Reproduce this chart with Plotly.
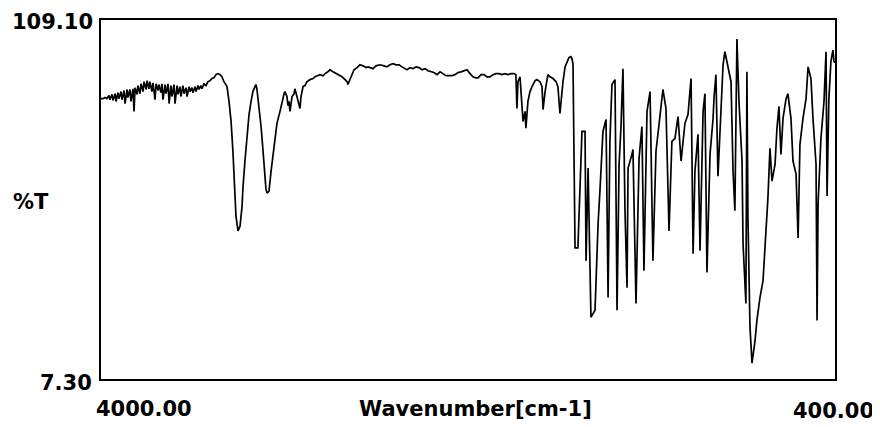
import plotly.graph_objects as go

wavenumber = [
    4000, 3990, 3980, 3971, 3961, 3956, 3946, 3941, 3931, 3926, 3917, 3912, 3902, 3897, 3887, 3882,
    3872, 3868, 3858, 3853, 3843, 3838, 3833, 3823, 3819, 3809, 3804, 3794, 3789, 3779, 3774, 3765,
    3760, 3750, 3745, 3735, 3730, 3720, 3716, 3706, 3701, 3696, 3686, 3681, 3671, 3666, 3657, 3652,
    3642, 3637, 3627, 3622, 3613, 3608, 3598, 3593, 3583, 3578, 3568, 3563, 3554, 3549, 3539, 3534,
    3524, 3519, 3510, 3505, 3495, 3485, 3475, 3465, 3456, 3446, 3436, 3426, 3416, 3407, 3397, 3387,
    3382, 3372, 3362, 3353, 3343, 3338, 3328, 3318, 3308, 3304, 3294, 3284, 3274, 3264, 3255, 3245,
    3240, 3235, 3225, 3215, 3210, 3201, 3191, 3186, 3176, 3166, 3156, 3147, 3137, 3122, 3112, 3102,
    3098, 3088, 3083, 3078, 3073, 3063, 3053, 3049, 3039, 3034, 3024, 3019, 3009, 3000, 2990, 2975,
    2960, 2950, 2936, 2926, 2911, 2901, 2887, 2877, 2862, 2847, 2833, 2818, 2803, 2793, 2789, 2779,
    2769, 2759, 2744, 2730, 2715, 2700, 2690, 2676, 2666, 2651, 2632, 2612, 2597, 2583, 2568, 2553,
    2538, 2524, 2509, 2499, 2484, 2470, 2455, 2440, 2426, 2411, 2396, 2381, 2367, 2352, 2337, 2323,
    2308, 2293, 2279, 2264, 2249, 2234, 2220, 2205, 2190, 2176, 2161, 2151, 2136, 2122, 2107, 2092,
    2077, 2063, 2048, 2033, 2019, 2004, 1989, 1974, 1965, 1960, 1955, 1945, 1940, 1930, 1920, 1916,
    1906, 1896, 1886, 1871, 1862, 1847, 1837, 1832, 1822, 1813, 1808, 1798, 1783, 1768, 1759, 1749,
    1739, 1734, 1724, 1714, 1705, 1695, 1690, 1685, 1680, 1675, 1661, 1651, 1641, 1626, 1621, 1611,
    1597, 1577, 1572, 1562, 1553, 1538, 1523, 1513, 1504, 1494, 1479, 1469, 1459, 1450, 1440, 1430,
    1420, 1415, 1396, 1391, 1376, 1361, 1347, 1337, 1322, 1307, 1293, 1278, 1263, 1244, 1229, 1214,
    1200, 1185, 1170, 1155, 1136, 1121, 1106, 1096, 1087, 1072, 1062, 1047, 1038, 1028, 1013, 998,
    993, 984, 974, 959, 949, 940, 925, 910, 900, 891, 881, 871, 856, 851, 837, 832,
    827, 817, 807, 792, 783, 768, 753, 743, 729, 719, 709, 694, 685, 675, 665, 655,
    640, 631, 616, 606, 591, 581, 572, 557, 542, 532, 518, 508, 493, 488, 483, 469,
    454, 444, 439, 430, 420, 410, 405, 400,
]

transmittance = [
    86.8, 86.8, 87.1, 86.8, 87.7, 86.5, 88.0, 86.3, 88.2, 86.0, 88.5, 86.8, 88.8, 86.5, 89.1, 85.4,
    89.4, 87.1, 89.4, 86.0, 89.6, 83.2, 89.9, 88.0, 90.5, 88.2, 91.0, 88.8, 91.6, 89.4, 91.9, 89.6,
    91.6, 88.8, 91.3, 86.5, 91.0, 89.1, 90.8, 88.5, 91.0, 86.5, 90.8, 88.2, 91.0, 85.4, 90.5, 87.4,
    90.8, 85.4, 90.5, 88.0, 90.2, 87.4, 90.5, 88.2, 89.9, 87.4, 90.2, 88.8, 89.9, 88.5, 90.2, 88.8,
    90.5, 89.4, 90.5, 89.6, 91.0, 90.5, 91.6, 91.9, 92.5, 92.7, 93.6, 93.9, 93.6, 93.0, 91.6, 90.8,
    90.2, 86.0, 80.3, 71.9, 62.0, 53.5, 49.3, 50.7, 56.4, 61.4, 69.1, 76.1, 82.3, 86.0, 88.8, 90.2,
    90.8, 89.4, 84.6, 78.9, 75.5, 67.6, 61.2, 60.0, 60.6, 66.2, 71.0, 76.1, 79.8, 83.2, 86.0, 88.2,
    88.8, 87.4, 84.8, 86.0, 83.2, 87.4, 88.2, 89.6, 87.4, 86.0, 84.0, 87.4, 90.2, 90.5, 91.6, 92.2,
    92.5, 93.0, 93.3, 93.6, 93.3, 93.9, 94.4, 95.0, 94.4, 93.9, 93.6, 93.0, 92.2, 91.6, 90.8, 92.2,
    93.9, 95.0, 95.6, 96.4, 96.1, 95.6, 95.8, 95.6, 95.3, 96.1, 96.4, 96.1, 95.8, 96.4, 96.7, 96.4,
    96.4, 95.8, 95.3, 95.0, 95.6, 95.3, 95.8, 95.6, 95.0, 95.3, 94.7, 94.4, 94.2, 93.6, 94.4, 93.9,
    93.3, 93.3, 93.3, 93.6, 94.2, 94.4, 94.7, 95.0, 93.9, 93.0, 92.7, 92.7, 93.6, 93.6, 93.0, 93.0,
    93.6, 93.9, 93.9, 93.6, 93.9, 93.6, 93.9, 93.9, 93.6, 84.0, 91.6, 93.0, 88.8, 80.3, 83.2, 78.4,
    86.0, 88.8, 90.2, 91.9, 92.2, 91.6, 90.2, 83.7, 88.8, 92.2, 93.6, 93.0, 92.5, 91.6, 90.2, 82.6,
    88.8, 91.6, 95.8, 97.3, 98.4, 98.7, 98.1, 96.7, 59.8, 44.5, 44.5, 64.3, 77.5, 77.5, 40.8, 67.1,
    24.8, 26.8, 36.6, 51.3, 60.6, 77.5, 80.9, 30.4, 74.7, 90.8, 92.2, 26.8, 68.2, 78.4, 95.3, 55.0,
    33.2, 67.1, 71.0, 72.4, 28.7, 69.9, 78.9, 38.0, 83.2, 88.8, 40.8, 71.9, 79.5, 89.4, 84.0, 49.3,
    74.7, 75.5, 81.7, 69.1, 79.8, 82.3, 92.5, 42.8, 66.2, 76.7, 43.7, 83.2, 88.2, 37.5, 71.0, 81.2,
    87.4, 93.6, 64.8, 83.2, 96.4, 100.1, 95.3, 91.6, 66.2, 55.0, 103.7, 86.0, 69.1, 45.6, 28.7, 94.4,
    53.2, 22.0, 11.8, 18.3, 23.9, 30.4, 35.2, 43.7, 58.6, 72.7, 63.4, 68.2, 78.1, 84.6, 71.0, 81.2,
    86.8, 88.2, 81.2, 69.1, 65.4, 47.3, 73.8, 81.2, 86.8, 95.8, 92.5, 81.2, 68.2, 23.9, 56.9, 75.5,
    86.0, 100.1, 59.2, 86.8, 97.3, 100.6, 97.3, 97.0,
]

x_range = [4000, 400]
y_range = [7.3, 109.1]
x_labels = ["4000.00", "Wavenumber[cm-1]", "400.00"]
y_labels = ["109.10", "%T", "7.30"]

FONT = "DejaVu Sans"
fig = go.Figure()
fig.add_trace(go.Scatter(
    x=wavenumber, y=transmittance, mode="lines",
    line=dict(color="black", width=1.7), hoverinfo="skip", showlegend=False,
))

# page body has an 8px margin; coordinates below are page pixels
OFF = 8
L, R, T, B = 101 - OFF, 835 - OFF, 18 - OFF, 379 - OFF
W, H = 880, 427

def px(x):
    return (x - OFF - L) / (R - L)

def py(y):
    return (B - (y - OFF)) / (B - T)

annots = [
    (x_labels[0], 144, 409),
    (x_labels[1], 475, 409),
    (x_labels[2], 833, 411),
    (y_labels[0], 52, 20),
    (y_labels[1], 31, 201),
    (y_labels[2], 66, 383),
]
for text, ax_, ay_ in annots:
    fig.add_annotation(
        text=f"<b>{text}</b>", xref="paper", yref="paper",
        x=px(ax_), y=py(ay_), xanchor="center", yanchor="middle",
        showarrow=False, font=dict(family=FONT, size=21, color="black"),
    )

fig.update_xaxes(range=x_range, showgrid=False, zeroline=False, showticklabels=False,
                 ticks="", showline=True, linecolor="black", linewidth=2, mirror=True)
fig.update_yaxes(range=y_range, showgrid=False, zeroline=False, showticklabels=False,
                 ticks="", showline=True, linecolor="black", linewidth=2, mirror=True)
fig.update_layout(
    width=W, height=H,
    margin=dict(l=L, r=W - R, t=T, b=H - B),
    paper_bgcolor="white", plot_bgcolor="white",
)
fig.write_html("out.html")
